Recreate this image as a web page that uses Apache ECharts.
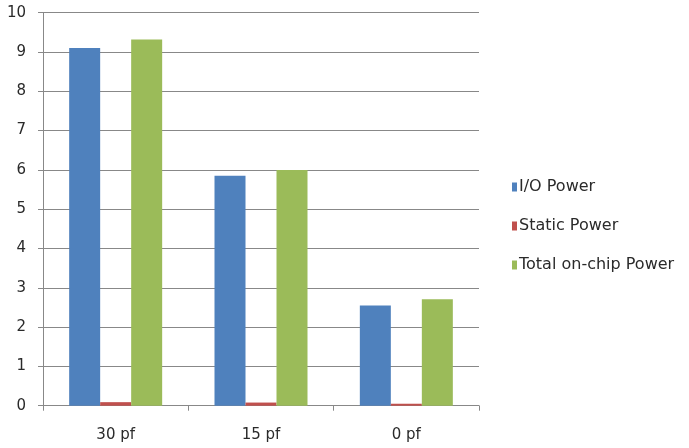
<!DOCTYPE html>
<html><head><meta charset="utf-8">
<script src="https://cdn.jsdelivr.net/npm/echarts@6/dist/echarts.min.js"></script>
<style>html,body{margin:0;padding:0;background:#fff}#c{width:689px;height:448px}</style>
</head><body><div id="c"></div>
<script>
const categories = ['30 pf', '15 pf', '0 pf'];
const ioPower = [9.1, 5.85, 2.55];
const staticPower = [0.09, 0.08, 0.05];
const totalPower = [9.32, 6.0, 2.71];
const yTicks = [0, 1, 2, 3, 4, 5, 6, 7, 8, 9, 10];
const legendNames = ['I/O Power', 'Static Power', 'Total on-chip Power'];

const font = 'DejaVu Sans';
const chart = echarts.init(document.getElementById('c'));
chart.setOption({
  animation: false,
  backgroundColor: '#fff',
  grid: { left: 43, top: 12.7, right: 210, bottom: 42.3, containLabel: false },
  legend: {
    orient: 'vertical', left: 507, top: 173,
    itemWidth: 5, itemHeight: 9, itemGap: 21,
    icon: 'rect',
    textStyle: { fontFamily: font, fontSize: 16, color: '#2a2a2a', lineHeight: 18, padding: [0, 0, 0, -3] },
    data: legendNames
  },
  xAxis: {
    type: 'category', data: categories,
    axisLine: { lineStyle: { color: '#888', width: 1 } },
    axisTick: { show: true, length: 5, lineStyle: { color: '#888' } },
    axisLabel: { fontFamily: font, fontSize: 15, color: '#2a2a2a', margin: 22 }
  },
  yAxis: {
    type: 'value', min: yTicks[0], max: yTicks[yTicks.length - 1], interval: 1,
    axisLine: { show: true, lineStyle: { color: '#888', width: 1 } },
    axisTick: { show: true, length: 5, lineStyle: { color: '#888' } },
    splitLine: { lineStyle: { color: '#888', width: 1 } },
    axisLabel: { fontFamily: font, fontSize: 15, color: '#2a2a2a', margin: 17 }
  },
  series: [
    { name: legendNames[0], type: 'bar', data: ioPower, barWidth: 31, barGap: '0%', itemStyle: { color: '#4F81BD' } },
    { name: legendNames[1], type: 'bar', data: staticPower, barWidth: 31, barGap: '0%', itemStyle: { color: '#C0504D' } },
    { name: legendNames[2], type: 'bar', data: totalPower, barWidth: 31, barGap: '0%', itemStyle: { color: '#9BBB59' } }
  ]
});
</script></body></html>
